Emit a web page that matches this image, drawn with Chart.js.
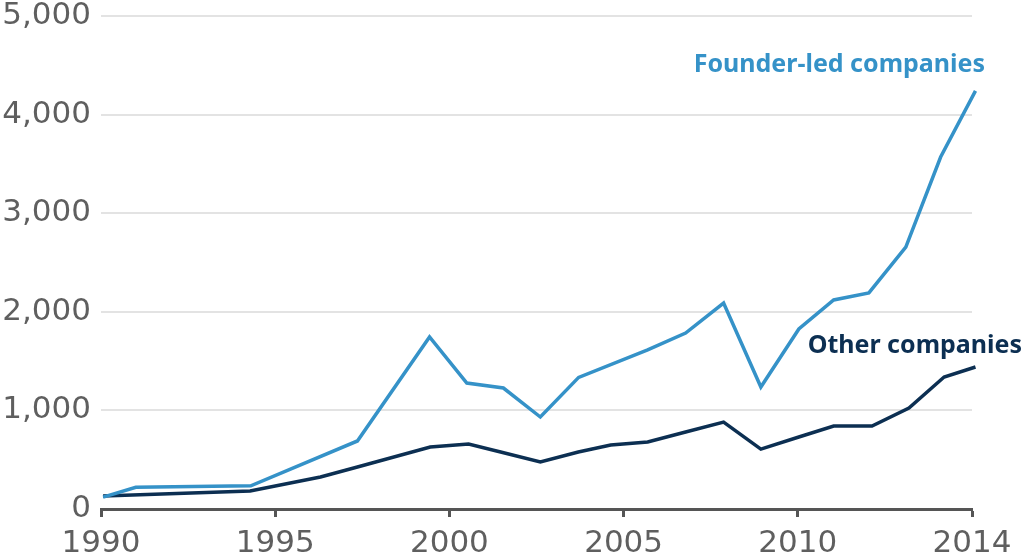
<!DOCTYPE html>
<html>
<head>
<meta charset="utf-8">
<script src="https://cdn.jsdelivr.net/npm/chart.js@4.4.1/dist/chart.umd.min.js"></script>
<style>
  html, body { margin: 0; padding: 0; background: #fff; }
  #chartArea { width: 1022px; height: 557px; }
</style>
</head>
<body>
<div id="chartArea"><canvas id="chartFounder" width="1022" height="557"></canvas></div>
<script>
// data (x = position in years)
const founderYears = [1990.06, 1991.0, 1994.3, 1997.36, 1999.43, 2000.5, 2001.55, 2002.61, 2003.71, 2005.69, 2006.78, 2007.87, 2008.94, 2010.03, 2011.03, 2012.04, 2013.1, 2014.1, 2015.1];
const founderValues = [120, 220, 235, 690, 1745, 1278, 1227, 933, 1335, 1613, 1785, 2089, 1237, 1826, 2120, 2191, 2657, 3570, 4240];

const otherYears = [1990.06, 1994.28, 1996.3, 1997.36, 1999.45, 2000.55, 2001.47, 2002.61, 2003.7, 2004.63, 2005.69, 2006.78, 2007.87, 2008.94, 2010.03, 2011.03, 2012.13, 2013.19, 2014.2, 2015.1];
const otherValues = [132, 183, 325, 426, 629, 659, 578, 477, 578, 649, 680, 781, 882, 608, 730, 842, 842, 1024, 1339, 1440];

const xTickValues = [1990, 1995, 2000, 2005, 2010, 2015];
const xTickLabels = ['1990', '1995', '2000', '2005', '2010', '2014'];
const yTickValues = [0, 1000, 2000, 3000, 4000, 5000];

const founderColor = '#3592c8';
const otherColor = '#0c2f52';
const tickFont = { family: '"DejaVu Sans"', size: 31 };

function toPoints(xs, ys) {
  return xs.map((x, i) => ({ x: x, y: ys[i] }));
}

// series names written next to the lines
const lineLabels = {
  id: 'lineLabels',
  afterDatasetsDraw(chart) {
    const ctx = chart.ctx;
    const xs = chart.scales.x;
    const ys = chart.scales.y;
    ctx.save();
    ctx.font = 'bold 25px "Noto Sans"';
    ctx.textAlign = 'right';
    ctx.textBaseline = 'middle';
    ctx.fillStyle = founderColor;
    ctx.fillText('Founder-led companies', xs.getPixelForValue(2015) + 13, ys.getPixelForValue(4500));
    ctx.fillStyle = otherColor;
    ctx.fillText('Other companies', xs.getPixelForValue(2015) + 50, ys.getPixelForValue(1650));
    ctx.restore();
  },
};

const ctx = document.getElementById('chartFounder').getContext('2d');
const chartFounder = new Chart(ctx, {
  type: 'line',
  data: {
    datasets: [
      {
        label: 'Founder-led companies',
        data: toPoints(founderYears, founderValues),
        borderColor: founderColor,
        borderWidth: 3.5,
        pointRadius: 0,
        tension: 0,
        clip: 8,
      },
      {
        label: 'Other companies',
        data: toPoints(otherYears, otherValues),
        borderColor: otherColor,
        borderWidth: 3.5,
        pointRadius: 0,
        tension: 0,
        clip: 8,
      },
    ],
  },
  options: {
    responsive: false,
    animation: false,
    layout: { padding: { top: 16, right: 50, left: 0, bottom: 0 } },
    plugins: {
      legend: { display: false },
      tooltip: { enabled: false },
    },
    scales: {
      x: {
        type: 'linear',
        min: 1990,
        max: 2015,
        afterBuildTicks: (scale) => {
          scale.ticks = xTickValues.map((v) => ({ value: v }));
        },
        afterFit: (scale) => {
          scale.height = 48;
        },
        ticks: {
          autoSkip: false,
          maxRotation: 0,
          padding: 8,
          color: '#5f5f5f',
          font: tickFont,
          callback: (v) => xTickLabels[xTickValues.indexOf(v)],
        },
        grid: {
          display: true,
          drawOnChartArea: false,
          drawTicks: true,
          tickLength: 8,
          tickWidth: 3,
          tickColor: '#555',
        },
        border: { display: true, color: '#555', width: 3 },
      },
      y: {
        min: 0,
        max: 5000,
        afterBuildTicks: (scale) => {
          scale.ticks = yTickValues.map((v) => ({ value: v }));
        },
        afterFit: (scale) => {
          scale.width = 101;
          // the top label may run off the canvas edge, as in the original
          scale.paddingTop = 0;
          scale.paddingBottom = 0;
        },
        ticks: {
          padding: 10,
          color: '#5f5f5f',
          font: tickFont,
          callback: (v) => v.toLocaleString('en-US'),
        },
        grid: {
          color: (c) => (c.tick.value === 0 ? 'rgba(0,0,0,0)' : '#e3e3e3'),
          lineWidth: 2,
          drawTicks: false,
        },
        border: { display: false },
      },
    },
  },
  plugins: [lineLabels],
});
</script>
</body>
</html>
